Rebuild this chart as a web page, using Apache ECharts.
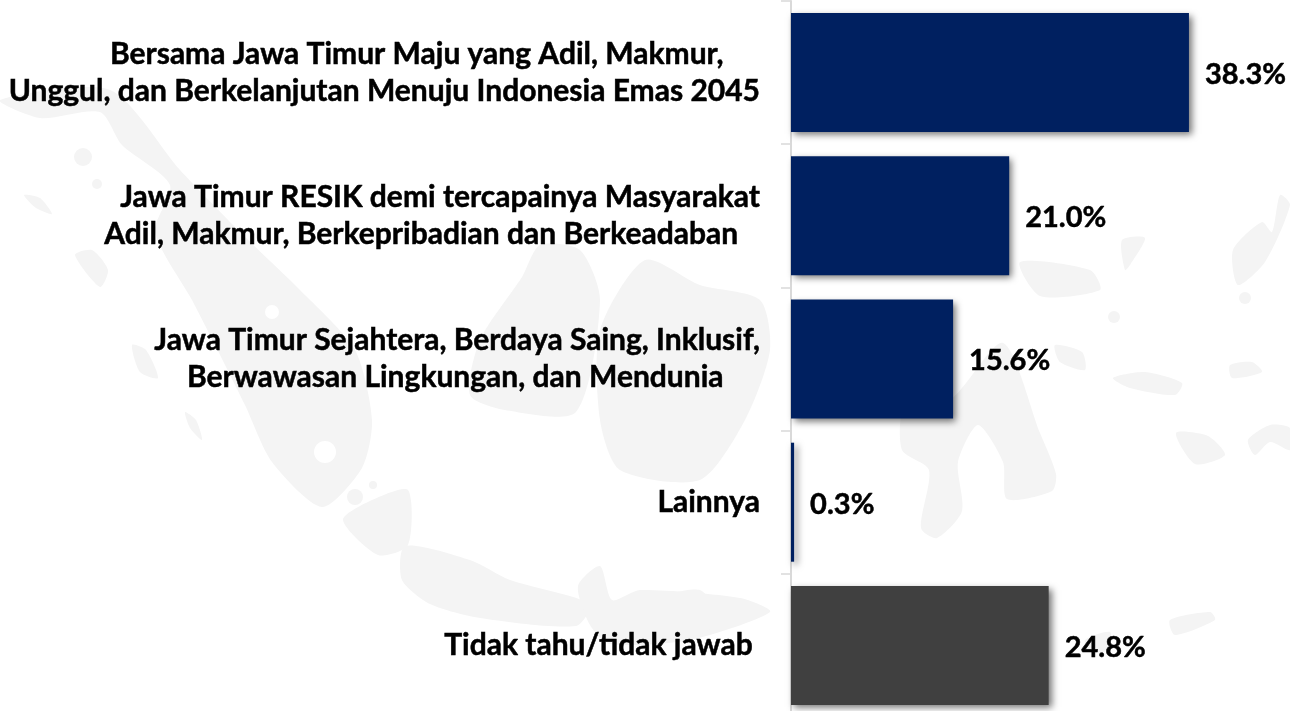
<!DOCTYPE html>
<html><head><meta charset="utf-8">
<style>html,body{margin:0;padding:0;background:#fff}#c{width:1290px;height:711px}</style>
<script src="https://cdn.jsdelivr.net/npm/echarts@6/dist/echarts.min.js"></script>
</head><body><div id="c"></div>
<script>
const sp = '\u00a0';
const categories = [
  'Bersama Jawa Timur Maju yang Adil, Makmur,' + sp.repeat(5) + '\nUnggul, dan Berkelanjutan Menuju Indonesia Emas 2045',
  'Jawa Timur RESIK demi tercapainya Masyarakat\nAdil, Makmur, Berkepribadian dan Berkeadaban' + sp.repeat(3),
  'Jawa Timur Sejahtera, Berdaya Saing, Inklusif,\nBerwawasan Lingkungan, dan Mendunia' + sp.repeat(5),
  'Lainnya',
  'Tidak tahu/tidak jawab' + sp
];
const values = [38.3, 21.0, 15.6, 0.3, 24.8];
const barColors = ['#002060', '#002060', '#002060', '#002060', '#404040'];
const FONT = 'Lato, "Open Sans", sans-serif';

// faint decorative map silhouette behind the chart
const land = [
 [[0,100],[40,118],[100,112],[122,145],[170,185],[155,232],[192,300],[215,345],[245,405],[272,462],[322,507],[362,468],[372,420],[355,350],[300,290],[240,232],[180,170],[110,90]],
 [[24,195],[40,198],[52,214],[36,208]],
 [[75,255],[92,250],[108,270],[100,287]],
 [[132,345],[146,350],[158,378],[140,372]],
 [[185,412],[196,420],[202,440],[190,428]],
 [[343,520],[372,500],[408,490],[408,545],[378,555]],
 [[405,546],[470,560],[510,580],[590,604],[576,626],[480,618],[430,604],[402,580]],
 [[578,586],[600,566],[612,600],[640,590],[740,598],[770,612],[690,640],[610,644],[590,625]],
 [[522,277],[540,245],[580,250],[600,300],[576,412],[505,410],[470,395],[480,340]],
 [[645,260],[700,285],[760,300],[770,350],[745,420],[700,480],[620,470],[600,420],[600,330]],
 [[1003,343],[1040,433],[1056,474],[1052,491],[1007,499],[1003,462],[978,425],[958,462],[962,511],[937,538],[921,528],[929,470],[902,450],[905,405],[950,400]],
 [[1113,378],[1145,372],[1182,383],[1175,395],[1130,388]],
 [[1230,365],[1252,362],[1262,372],[1232,378]],
 [[1176,433],[1208,436],[1225,455],[1195,464]],
 [[1248,440],[1270,425],[1290,428],[1290,450],[1270,442],[1255,455]],
 [[1233,250],[1262,222],[1272,232],[1280,195],[1290,205],[1265,262],[1238,285]],
 [[1122,240],[1145,238],[1130,265],[1125,270]],
 [[1020,262],[1090,270],[1100,290],[1040,296]],
 [[1055,345],[1082,352],[1085,370],[1060,362]],
 [[1170,620],[1210,612],[1215,620],[1175,635]],
 [[1085,640],[1110,632],[1108,650],[1090,652]],
 [[660,600],[700,590],[720,620],[680,640]]
];
const spots = [[83,157,9,'#f4f4f4'],[97,184,5,'#f4f4f4'],[1245,298,6,'#f4f4f4'],[272,312,7,'#ffffff'],[325,452,11,'#ffffff'],[355,497,8,'#f4f4f4'],[373,485,4,'#f4f4f4'],[1114,317,6,'#f4f4f4']];
const graphics = land.map(p => ({
  type: 'polygon', z: -10, silent: true,
  shape: { points: p, smooth: 0.25 },
  style: { fill: '#f4f4f4' }
})).concat(spots.map(h => ({
  type: 'circle', z: -9, silent: true,
  shape: { cx: h[0], cy: h[1], r: h[2] },
  style: { fill: h[3] }
})));

const chart = echarts.init(document.getElementById('c'), null, { renderer: 'canvas' });
chart.setOption({
  animation: false,
  backgroundColor: '#ffffff',
  graphic: { elements: graphics },
  grid: { left: 791, top: 1, width: 415.6, height: 716, outerBoundsMode: 'none' },
  xAxis: { type: 'value', min: 0, max: 40, show: false },
  yAxis: {
    type: 'category', inverse: true, data: categories,
    axisLine: { show: true, lineStyle: { color: '#d9d9d9', width: 2 } },
    axisTick: { show: true, length: 10, lineStyle: { color: '#d9d9d9', width: 1.5 } },
    axisLabel: {
      margin: 31, align: 'right', color: '#000', fontFamily: FONT,
      fontWeight: 700, fontSize: 30, lineHeight: 37,
      textBorderColor: '#000', textBorderWidth: 0.5
    }
  },
  series: [{
    type: 'bar', barWidth: 119,
    data: values.map((v, i) => ({
      value: v,
      itemStyle: {
        color: barColors[i], shadowColor: 'rgba(0,0,0,0.55)',
        shadowBlur: 7, shadowOffsetX: 3, shadowOffsetY: 3
      }
    })),
    label: {
      show: true, position: 'right', distance: 16, color: '#000',
      fontFamily: FONT, fontWeight: 700, fontSize: 29,
      textBorderColor: '#000', textBorderWidth: 0.5, offset: [0, 2]
    , formatter: p => p.value.toFixed(1) + '%'
    }
  }]
});
</script></body></html>
